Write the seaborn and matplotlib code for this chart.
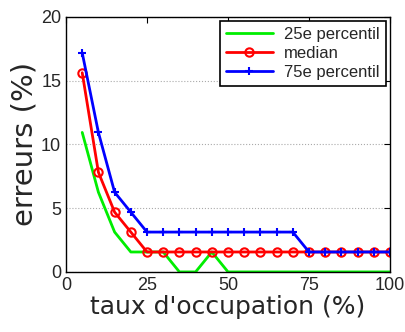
import numpy as np
import pandas as pd
import matplotlib
matplotlib.use('Agg')
import matplotlib.pyplot as plt
import seaborn as sns

# taux d'occupation (%) and erreurs (%) per series
taux = [5, 10, 15, 20, 25, 30, 35, 40, 45, 50, 55, 60, 65, 70, 75, 80, 85, 90, 95, 100]
p25 = [10.94, 6.25, 3.125, 1.5625, 1.5625, 1.5625, 0, 0, 1.5625, 0,
       0, 0, 0, 0, 0, 0, 0, 0, 0, 0]
median = [15.625, 7.8125, 4.6875, 3.125, 1.5625, 1.5625, 1.5625, 1.5625, 1.5625, 1.5625,
          1.5625, 1.5625, 1.5625, 1.5625, 1.5625, 1.5625, 1.5625, 1.5625, 1.5625, 1.5625]
p75 = [17.1875, 10.9375, 6.25, 4.6875, 3.125, 3.125, 3.125, 3.125, 3.125, 3.125,
       3.125, 3.125, 3.125, 3.125, 1.5625, 1.5625, 1.5625, 1.5625, 1.5625, 1.5625]
labels = ['25e percentil', 'median', '75e percentil']

sns.set_style('white')
plt.rcParams['font.family'] = ['Liberation Sans', 'DejaVu Sans']

fig = plt.figure(figsize=(4.05, 3.32), dpi=100)
ax = fig.add_axes([0.163, 0.181, 0.80, 0.768])

df = pd.DataFrame({'taux': taux, 'p25': p25, 'median': median, 'p75': p75})
sns.lineplot(data=df, x='taux', y='p25', ax=ax, color='#00ee00', lw=2, label=labels[0])
sns.lineplot(data=df, x='taux', y='median', ax=ax, color='red', lw=2, marker='o',
             markersize=6, markerfacecolor='none', markeredgecolor='red',
             markeredgewidth=1.5, label=labels[1])
sns.lineplot(data=df, x='taux', y='p75', ax=ax, color='blue', lw=2, marker='+',
             markersize=6, markeredgewidth=1.5, markeredgecolor='blue', label=labels[2])

ax.set_xlim(0, 100)
ax.set_ylim(0, 20)
ax.set_xticks([0, 25, 50, 75, 100])
ax.set_yticks([0, 5, 10, 15, 20])
ax.tick_params(direction='in', top=True, right=True, length=4, labelsize=13, color='black')
ax.yaxis.grid(True, linestyle=':', color='#aaaaaa', lw=0.8)
for s in ax.spines.values():
    s.set_color('black')
    s.set_linewidth(1)

ax.set_xlabel("taux d'occupation (%)", fontsize=18, family=['DejaVu Sans'], labelpad=1)
ax.set_ylabel('erreurs (%)', fontsize=21, family=['DejaVu Sans'], labelpad=2)

leg = ax.legend(loc='upper right', fontsize=12, frameon=True, fancybox=False,
                edgecolor='black', framealpha=1, borderaxespad=0.25,
                handlelength=2.8, labelspacing=0.25, borderpad=0.35, handletextpad=0.7)
leg.get_frame().set_linewidth(1.2)

plt.savefig('out.png', dpi=100)
